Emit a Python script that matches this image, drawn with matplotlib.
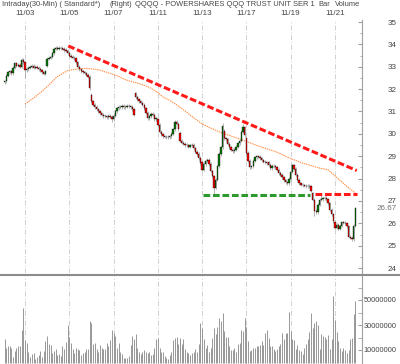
import matplotlib
matplotlib.use("Agg")
import matplotlib.pyplot as plt
from matplotlib.lines import Line2D
from matplotlib.transforms import blended_transform_factory
from matplotlib.ticker import FixedLocator, FuncFormatter

plt.rcParams['font.family'] = ['Liberation Sans', 'DejaVu Sans']
plt.rcParams['font.size'] = 5.4

# --- data: QQQQ 30-min bars, 10/31 (partial) to 11/21 ---
closes = [
    32.35, 32.6, 32.75, 32.8, 32.7, 32.95, 33.15, 33.05, 33.1, 33.0, 33.3, 33.2,
    32.85, 32.9, 32.95, 33.0, 33.05, 32.95, 33.0, 32.95, 32.9, 32.85, 32.75, 32.68, 32.8,
    33.35, 33.4, 33.45, 33.6, 33.8, 33.85, 33.8, 33.85, 33.82, 33.8, 33.75, 33.72, 33.62,
    33.5, 33.45, 33.4, 33.38, 33.2, 33.0, 32.88, 32.8, 32.75, 32.7, 32.65, 32.55, 32.05,
    31.45, 31.3, 31.2, 31.1, 31.0, 30.92, 30.85, 30.8, 30.78, 30.75, 30.8, 30.77, 30.65,
    30.82, 31.0, 31.15, 31.22, 31.2, 31.25, 31.2, 31.22, 31.25, 31.23, 31.2, 31.1, 30.85,
    31.65, 31.55, 31.45, 31.4, 31.3, 31.15, 30.95, 30.7, 30.78, 30.9, 30.85, 30.66, 30.7,
    30.4, 30.1, 29.98, 29.9, 29.87, 29.85, 29.86, 29.9, 30.0, 30.2, 30.55, 30.45, 30.2,
    29.7, 29.6, 29.55, 29.5, 29.48, 29.43, 29.48, 29.52, 29.36, 29.2, 29.1, 28.92, 28.7,
    28.4, 28.65, 28.8, 28.84, 28.65, 28.35, 28.1, 27.6, 27.95, 28.55, 29.1, 29.4, 30.35,
    29.8, 29.75, 29.55, 29.4, 29.3, 29.22, 29.3, 29.42, 29.58, 29.7, 30.1, 30.3, 29.95,
    29.15, 28.8, 28.5, 28.55, 28.8, 28.95, 29.0, 28.98, 28.9, 28.82, 28.76, 28.72, 28.69,
    28.62, 28.47, 28.58, 28.55, 28.5, 28.4, 28.25, 28.18, 28.05, 27.92, 27.83, 27.8, 27.98,
    28.3, 28.6, 28.45, 28.17, 27.95, 27.8, 27.73, 27.7, 27.68, 27.65, 27.67, 27.66, 27.45,
    27.05, 26.55, 26.5, 26.83, 27.05, 27.08, 27.12, 27.13, 27.08, 26.9, 26.6, 26.4, 26.1,
    25.8, 25.94, 25.75, 25.9, 26.04, 26.02, 26.0, 25.86, 25.4, 25.35, 25.3, 25.9, 26.67,
]
# opening prices where a session gapped away from the prior close
gap_opens = {0: 32.3, 12: 33.2, 25: 33.05, 51: 31.75, 77: 31.82, 90: 30.65,
             103: 30.05, 116: 28.75, 129: 30.15, 142: 29.8, 155: 28.72,
             181: 27.35, 194: 26.05}
wick_highs = {10: 33.4, 30: 33.95, 77: 31.85, 100: 30.6, 128: 30.48,
              140: 30.42, 168: 28.65, 186: 27.25}
wick_lows = {12: 32.5, 63: 30.55, 123: 27.28, 182: 26.35, 204: 25.2}

volume_m = [
    18.5, 11.3, 13.5, 12.9, 12.0, 4.5, 9.2, 12.0, 12.9, 13.5, 26.0, 44.0,
    18.0, 15.3, 8.4, 4.7, 6.6, 7.4, 3.1, 4.7, 5.8, 9.2, 4.7, 9.2, 17.2,
    21.2, 14.5, 13.7, 8.0, 9.2, 11.2, 6.2, 6.6, 5.3, 13.5, 11.2, 16.5, 29.7,
    20.7, 15.9, 11.2, 8.0, 12.0, 11.2, 10.1, 5.8, 7.4, 8.4, 11.2, 11.2, 33.2,
    31.9, 14.5, 15.9, 11.2, 8.4, 13.7, 12.0, 10.7, 11.2, 15.9, 13.5, 18.0, 25.7,
    23.3, 21.2, 12.0, 15.3, 8.4, 6.6, 4.0, 4.0, 4.0, 5.3, 13.7, 21.2, 19.1,
    22.5, 12.0, 8.4, 6.6, 8.4, 10.1, 8.4, 7.4, 8.4, 5.8, 6.6, 12.0, 19.1,
    19.9, 12.0, 8.4, 8.4, 5.3, 4.0, 3.1, 5.8, 8.4, 18.0, 19.9, 20.7, 14.5,
    19.9, 14.5, 18.5, 10.7, 8.4, 8.0, 5.8, 8.0, 8.4, 10.7, 8.4, 14.5, 31.9,
    27.9, 19.1, 12.0, 13.7, 8.4, 12.0, 19.9, 27.9, 22.5, 28.7, 35.9, 33.2, 39.3,
    25.2, 20.4, 20.4, 12.9, 10.1, 10.1, 12.0, 8.4, 14.5, 15.9, 26.0, 25.2, 35.9,
    28.7, 17.2, 9.2, 10.1, 12.0, 12.0, 12.9, 12.9, 13.7, 17.2, 13.7, 23.3, 26.0,
    19.9, 12.9, 13.5, 11.2, 9.2, 11.2, 13.5, 14.5, 23.8, 18.5, 23.3, 23.8, 40.4,
    25.2, 19.1, 18.0, 11.2, 13.7, 10.1, 9.2, 6.6, 12.0, 14.5, 18.5, 24.4, 39.3,
    27.9, 31.4, 33.2, 29.7, 11.2, 22.5, 21.2, 20.7, 19.1, 21.8, 11.2, 18.5, 53.2,
    34.0, 24.4, 17.2, 12.0, 9.2, 12.0, 10.1, 8.0, 10.1, 18.5, 19.9, 38.5, 48.9,
]

# moving average (orange) at selected bars
ma_idx = [12, 17, 22, 27, 30, 34, 37, 43, 48, 53, 56, 66, 71, 75, 80, 85, 90, 93,
          97, 101, 106, 111, 115, 119, 127, 134, 142, 150, 159, 168, 175, 185,
          190, 195, 201, 206]
ma_vals = [31.33, 31.6, 31.9, 32.25, 32.5, 32.7, 32.83, 32.9, 32.93, 32.89, 32.85,
           32.6, 32.42, 32.33, 32.23, 32.08, 31.85, 31.65, 31.5, 31.3, 31.02,
           30.72, 30.5, 30.33, 30.06, 29.88, 29.66, 29.43, 29.21, 28.9, 28.69,
           28.47, 28.39, 28.05, 27.65, 27.35]

day_starts = [12, 38, 64, 90, 116, 142, 168, 194]
day_labels = ['11/03', '11/05', '11/07', '11/11', '11/13', '11/17', '11/19', '11/21']

# trend lines drawn by the analyst (bar index, price)
resist_x, resist_y = [37.4, 206.8], [33.93, 28.36]
support_x, support_y = [116.5, 179.3], [27.27, 27.27]
broken_x, broken_y = [182.3, 206.9], [27.3, 27.3]

last_price = 26.67

# --- figure ---
W, H = 400, 364
fig = plt.figure(figsize=(W / 100, H / 100), dpi=100)
fig.patch.set_facecolor('white')

ax = fig.add_axes([0, 1 - 273 / H, 362 / W, (273 - 20) / H])
axv = fig.add_axes([0, 0, 362 / W, (H - 276) / H])

n = len(closes)
idx = list(range(n))
opens = [gap_opens.get(i, closes[i - 1] if i > 0 else closes[0]) for i in idx]

for a in (ax, axv):
    a.set_xlim(-2.68, 209.9)
    for s in ('left', 'top', 'bottom'):
        a.spines[s].set_visible(False)
    a.spines['right'].set_color('#a0a0a0')
    a.spines['right'].set_linewidth(0.8)
    a.set_xticks([])
    a.yaxis.tick_right()
    a.tick_params(axis='y', which='both', direction='in', colors='#a0a0a0',
                  labelcolor='#444444', labelsize=5.8, pad=25)
    a.tick_params(axis='y', which='major', length=3)
    a.tick_params(axis='y', which='minor', length=1.5)
    for d in day_starts:
        a.axvline(d, color='#d0d0d0', lw=0.7, ls=(0, (5, 2, 1, 2)), zorder=0)

# candles
for i in idx:
    o, c = opens[i], closes[i]
    hi = wick_highs.get(i, max(o, c) + 0.07)
    lo = wick_lows.get(i, min(o, c) - 0.07)
    ax.vlines(i, lo, hi, color='#a8a8a8', lw=0.6, zorder=2)
    col = '#0a7a0a' if c >= o else '#ff0000'
    ax.bar(i, max(abs(c - o), 0.02), bottom=min(o, c), width=0.8, color=col,
           edgecolor='black', linewidth=0.25, zorder=3)

ax.plot(ma_idx, ma_vals, color='#ff8c40', lw=0.8, ls=(0, (1.2, 0.8)), zorder=1)
ax.plot(resist_x, resist_y, color='#ff1a1a', lw=2.2, ls=(0, (2.2, 0.9)), zorder=4)
ax.plot(support_x, support_y, color='#2e9a2e', lw=2.2, ls=(0, (2.2, 0.9)), zorder=4)
ax.plot(broken_x, broken_y, color='#ff1a1a', lw=2.2, ls=(0, (2.2, 0.9)), zorder=4)

ax.set_ylim(23.78, 35.09)
ax.set_yticks(range(24, 36))
ax.yaxis.set_minor_locator(FixedLocator([v + 0.5 for v in range(23, 36)]))
for lab in ax.get_yticklabels():
    lab.set_horizontalalignment('right')

tr = blended_transform_factory(fig.transFigure, ax.transData)
ax.text(397 / W, last_price, f'{last_price:.2f}', transform=tr, ha='right',
        va='center', fontsize=5.8, color='#707070')

# volume
axv.vlines(idx, 0, volume_m, color='#979797', lw=0.7, zorder=2)
axv.set_ylim(-1.2, 69.2)
axv.yaxis.set_major_locator(FixedLocator([10, 30, 50]))
axv.yaxis.set_minor_locator(FixedLocator([20, 40, 60]))
axv.tick_params(axis='y', which='minor', length=3)
axv.tick_params(axis='y', labelsize=5.3)
axv.yaxis.set_major_formatter(FuncFormatter(lambda v, p: f'{int(round(v * 1e6))}'))
for lab in axv.get_yticklabels():
    lab.set_horizontalalignment('right')

# separator between panels
fig.add_artist(Line2D([0, 1], [1 - 275 / H] * 2, transform=fig.transFigure,
                      color='#8c8c8c', lw=1.5))

# header texts
hdr = dict(fontsize=5.4, color='#444444', va='center')
fig.text(2 / W, 1 - 5 / H, 'Intraday(30-Min) ( Standard*)', **hdr)
fig.text(109 / W, 1 - 5 / H, '(Right)', **hdr)
fig.text(135 / W, 1 - 5 / H, 'QQQQ - POWERSHARES QQQ TRUST UNIT SER 1', **hdr)
fig.text(318 / W, 1 - 5 / H, 'Bar', **hdr)
fig.text(335 / W, 1 - 5 / H, 'Volume', **hdr)

trd = blended_transform_factory(ax.transData, fig.transFigure)
for d, lab in zip(day_starts, day_labels):
    ax.text(d, 1 - 13.5 / H, lab, transform=trd, ha='center', va='center',
            fontsize=5.8, color='#444444')

fig.savefig('out.png', dpi=100, facecolor='white')
